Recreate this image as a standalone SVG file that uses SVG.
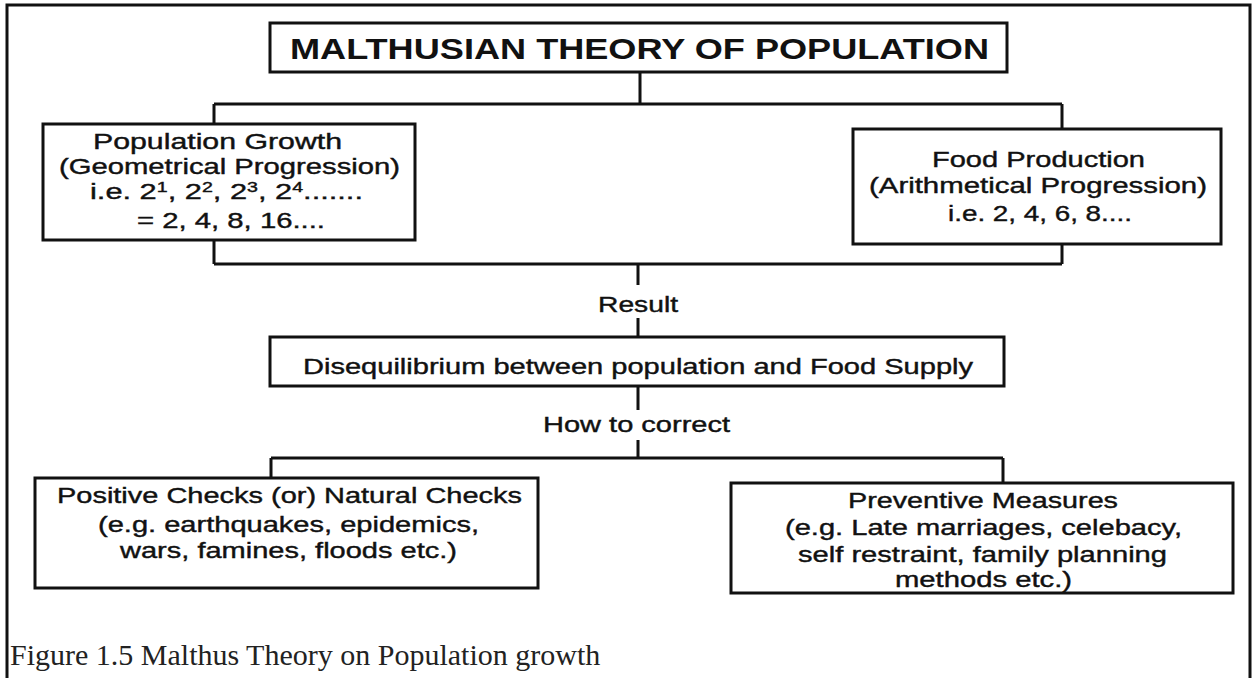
<svg xmlns="http://www.w3.org/2000/svg" width="1255" height="678" viewBox="0 0 1255 678">
<style>
.box{fill:#fff;stroke:#111;stroke-width:3}
.con{fill:none;stroke:#111;stroke-width:3}
.t{font-family:"Liberation Sans",Arial,sans-serif;font-size:22px;fill:#111;stroke:#111;stroke-width:0.4}
.title{font-family:"Liberation Sans",Arial,sans-serif;font-size:30px;font-weight:bold;fill:#111}
.cap{font-family:"Liberation Serif","Times New Roman",serif;font-size:30px;fill:#222}
.sup{font-size:14px}
</style>
<rect x="0" y="0" width="1255" height="678" fill="#fff"/>
<path d="M7 690 V5 H1250 V690" fill="none" stroke="#111" stroke-width="3"/>
<g id="connectors">
<path class="con" d="M640 72 V104 M214 104 H1062 M214 104 V124 M1062 104 V129"/>
<path class="con" d="M214 240 V264 M1062 244 V264 M214 264 H1062 M638 264 V285 M638 318 V337"/>
<path class="con" d="M638 386 V410 M638 440 V458 M271 458 H1003 M271 458 V478 M1003 458 V483"/>
<text class="t" x="598" y="312" textLength="80" lengthAdjust="spacingAndGlyphs">Result</text>
<text class="t" x="543" y="432" textLength="187" lengthAdjust="spacingAndGlyphs">How to correct</text>
</g>
<g id="title">
<rect class="box" x="270" y="23" width="737" height="49"/>
<text class="title" x="290" y="59" textLength="699" lengthAdjust="spacingAndGlyphs">MALTHUSIAN THEORY OF POPULATION</text>
</g>
<g id="population-growth">
<rect class="box" x="43" y="124" width="372" height="116"/>
<text class="t" x="93" y="149" textLength="249" lengthAdjust="spacingAndGlyphs">Population Growth</text>
<text class="t" x="59" y="174" textLength="341" lengthAdjust="spacingAndGlyphs">(Geometrical Progression)</text>
<text class="t" x="90" y="199" textLength="273" lengthAdjust="spacingAndGlyphs">i.e. 2<tspan class="sup" dy="-7">1</tspan><tspan dy="7">, 2</tspan><tspan class="sup" dy="-7">2</tspan><tspan dy="7">, 2</tspan><tspan class="sup" dy="-7">3</tspan><tspan dy="7">, 2</tspan><tspan class="sup" dy="-7">4</tspan><tspan dy="7">.......</tspan></text>
<text class="t" x="137" y="228" textLength="188" lengthAdjust="spacingAndGlyphs">= 2, 4, 8, 16....</text>
</g>
<g id="food-production">
<rect class="box" x="853" y="129" width="368" height="115"/>
<text class="t" x="932" y="167" textLength="213" lengthAdjust="spacingAndGlyphs">Food Production</text>
<text class="t" x="869" y="193" textLength="338" lengthAdjust="spacingAndGlyphs">(Arithmetical Progression)</text>
<text class="t" x="948" y="221" textLength="184" lengthAdjust="spacingAndGlyphs">i.e. 2, 4, 6, 8....</text>
</g>
<g id="disequilibrium">
<rect class="box" x="270" y="337" width="734" height="49"/>
<text class="t" x="303" y="374" textLength="670" lengthAdjust="spacingAndGlyphs">Disequilibrium between population and Food Supply</text>
</g>
<g id="positive-checks">
<rect class="box" x="35" y="478" width="503" height="110"/>
<text class="t" x="57" y="503" textLength="465" lengthAdjust="spacingAndGlyphs">Positive Checks (or) Natural Checks</text>
<text class="t" x="98" y="532" textLength="381" lengthAdjust="spacingAndGlyphs">(e.g. earthquakes, epidemics,</text>
<text class="t" x="120" y="558" textLength="337" lengthAdjust="spacingAndGlyphs">wars, famines, floods etc.)</text>
</g>
<g id="preventive-measures">
<rect class="box" x="731" y="483" width="502" height="110"/>
<text class="t" x="848" y="508" textLength="270" lengthAdjust="spacingAndGlyphs">Preventive Measures</text>
<text class="t" x="785" y="535" textLength="397" lengthAdjust="spacingAndGlyphs">(e.g. Late marriages, celebacy,</text>
<text class="t" x="798" y="562" textLength="369" lengthAdjust="spacingAndGlyphs">self restraint, family planning</text>
<text class="t" x="895" y="587" textLength="177" lengthAdjust="spacingAndGlyphs">methods etc.)</text>
</g>
<text class="cap" x="10" y="665">Figure 1.5 Malthus Theory on Population growth</text>
</svg>
